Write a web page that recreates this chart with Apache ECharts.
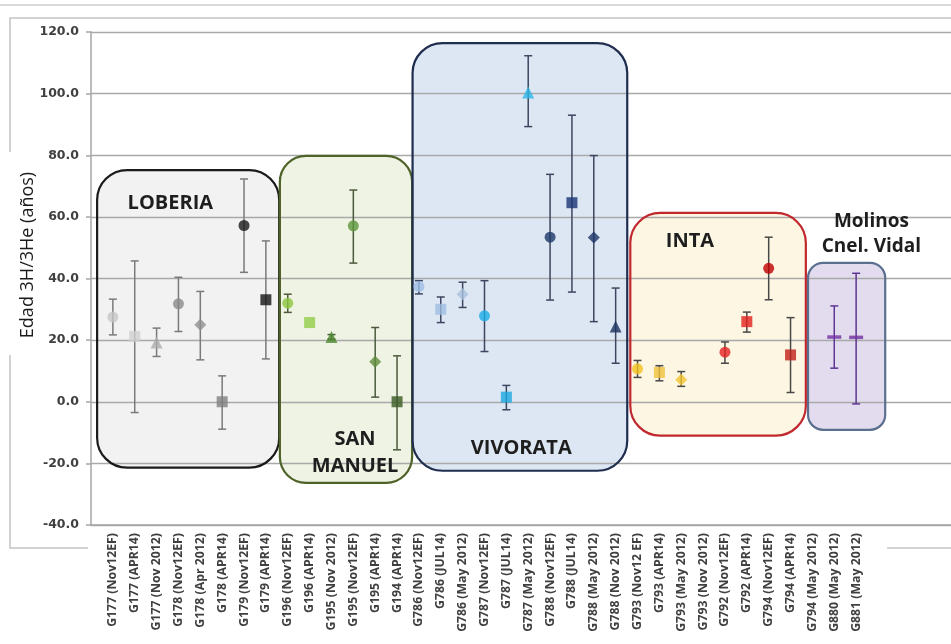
<!DOCTYPE html>
<html>
<head>
<meta charset="utf-8">
<script src="https://cdn.jsdelivr.net/npm/echarts/dist/echarts.min.js"></script>
<style>
  html, body { margin: 0; padding: 0; background: #ffffff; }
  #chart { width: 951px; height: 644px; }
</style>
</head>
<body>
<div id="chart"></div>
<script>
// ---------- DATA ----------
const categories = [
  'G177 (Nov12EF)', 'G177 (APR14)', 'G177 (Nov 2012)', 'G178 (Nov12EF)', 'G178 (Apr 2012)',
  'G178 (APR14)', 'G179 (Nov12EF)', 'G179 (APR14)', 'G196 (Nov12EF)', 'G196 (APR14)',
  'G195 (Nov 2012)', 'G195 (Nov12EF)', 'G195 (APR14)', 'G194 (APR14)', 'G786 (Nov12EF)',
  'G786 (JUL14)', 'G786 (May 2012)', 'G787 (Nov12EF)', 'G787 (JUL14)', 'G787 (May 2012)',
  'G788 (Nov12EF)', 'G788 (JUL14)', 'G788 (May 2012)', 'G788 (Nov 2012)', 'G793 (Nov12 EF)',
  'G793 (APR14)', 'G793 (May 2012)', 'G793 (Nov 2012)', 'G792 (Nov12EF)', 'G792 (APR14)',
  'G794 (Nov12EF)', 'G794 (APR14)', 'G794 (May 2012)', 'G880 (May 2012)', 'G881 (May 2012)'
];
const ages = [
  27.5, 21.2, 19.2, 31.8, 25.0, 0.0, 57.2, 33.1,
  32.0, 25.7, 21.0, 57.1, 13.0, 0.0,
  37.4, 30.0, 34.9, 27.9, 1.5, 100.4, 53.4, 64.6, 53.3, 24.4,
  10.7, 9.5, 7.1, null, 16.1, 26.0, 43.3, 15.2,
  null, 21.0, 20.9
];
const ageLow = [
  21.7, -3.5, 14.7, 22.8, 13.6, -8.9, 42.0, 13.9,
  29.0, null, 20.3, 45.0, 1.5, -15.6,
  35.0, 25.7, 30.6, 16.3, -2.6, 89.3, 33.0, 35.6, 26.0, 12.5,
  7.9, 6.8, 5.0, null, 12.5, 22.6, 33.1, 3.0,
  null, 10.9, -0.7
];
const ageHigh = [
  33.3, 45.7, 23.9, 40.4, 35.8, 8.4, 72.3, 52.2,
  34.9, null, 21.8, 68.7, 24.1, 14.9,
  39.3, 34.0, 38.8, 39.3, 5.3, 112.3, 73.8, 93.0, 79.9, 36.9,
  13.4, 11.7, 9.8, null, 19.4, 29.1, 53.4, 27.3,
  null, 31.1, 41.7
];
const yTicks = [-40, -20, 0, 20, 40, 60, 80, 100, 120];
const groups = ['LOBERIA', 'SAN\nMANUEL', 'VIVORATA', 'INTA', 'Molinos\nCnel. Vidal'];
const yTitle = 'Edad 3H/3He (años)';

// ---------- STYLE / LAYOUT ----------
const symbols = [
  'circle', 'rect', 'triangle', 'circle', 'diamond', 'rect', 'circle', 'rect',
  'circle', 'rect', 'triangle', 'circle', 'diamond', 'rect',
  'circle', 'rect', 'diamond', 'circle', 'rect', 'triangle', 'circle', 'rect', 'diamond', 'triangle',
  'circle', 'rect', 'diamond', null, 'circle', 'rect', 'circle', 'rect',
  null, 'dash', 'dash'
];
const colors = [
  '#c6c6c6', '#d0d0d0', '#acacac', '#8a8a8a', '#8e8e8e', '#808080', '#1a1a1a', '#141414',
  '#8cc63e', '#92cc4a', '#4e8a30', '#5a963a', '#5f8c3a', '#3a5a22',
  '#9dbde3', '#9fbde0', '#a9c1de', '#19ade6', '#1ba9e1', '#2bb6e8', '#1d3768', '#1a3574', '#1b3668', '#1a2f5c',
  '#f2c01c', '#efc23a', '#f2c62e', null, '#e52222', '#e2201c', '#c00000', '#c0201a',
  null, '#7030a0', '#7030a0'
];
// annotation boxes in data units (category index, value)
const boxLayout = [
  { x0: -0.72, x1: 7.61,  y0: -21.4, y1: 75.2,  r: 30, fill: '#f2f2f2', stroke: '#1a1a1a', err: '#7a7a7a', lx: 2.63,  ly: 64.5,  fs: 20, lh: 27 },
  { x0: 7.64,  x1: 13.69, y0: -26.3, y1: 79.8,  r: 26, fill: '#eef3e3', stroke: '#4f6228', err: '#4c5a3c', lx: 11.08, ly: -16.6, fs: 20, lh: 27 },
  { x0: 13.71, x1: 23.53, y0: -22.4, y1: 116.4, r: 30, fill: '#dde7f3', stroke: '#1f2d4f', err: '#3c4660', lx: 18.68, ly: -15.2, fs: 20, lh: 27 },
  { x0: 23.67, x1: 31.7,  y0: -11.0, y1: 61.3,  r: 30, fill: '#fdf6e3', stroke: '#c0282d', err: '#484848', lx: 26.4,  ly: 52.2,  fs: 20, lh: 27 },
  { x0: 31.8,  x1: 35.33, y0: -9.1,  y1: 45.1,  r: 15, fill: '#e3dcef', stroke: '#5b6f8e', err: '#5e3592', lx: 34.7,  ly: 54.5,  fs: 19, lh: 25 }
];
function groupOf(i) {
  for (let g = 0; g < boxLayout.length; g++) {
    if (i >= boxLayout[g].x0 && i <= boxLayout[g].x1) return g;
  }
  return 0;
}
const FONT = '"Open Sans", "Noto Sans", sans-serif';
const GRID = { left: 91, right: 0, top: 32, bottom: 119 };
const X_MIN = -1;
const X_MAX = 38.34;
const TOP = 1;   // canvas layer for everything drawn above the box fills

// ---------- BUILD ----------
const scatterData = [];
const errData = [];
categories.forEach((c, i) => {
  if (ages[i] !== null) {
    const isDash = symbols[i] === 'dash';
    scatterData.push({
      value: [i, ages[i]],
      symbol: isDash ? 'rect' : symbols[i],
      symbolSize: isDash ? [14, 3.5] : (symbols[i] === 'triangle' ? 12 : (symbols[i] === 'diamond' ? 12 : 11)),
      itemStyle: { color: colors[i] }
    });
  }
  if (ageLow[i] !== null && ageHigh[i] !== null) {
    errData.push([i, ageLow[i], ageHigh[i]]);
  }
});

function boxRect(api, b) {
  const p0 = api.coord([b.x0, b.y1]);
  const p1 = api.coord([b.x1, b.y0]);
  return { x: p0[0], y: p0[1], width: p1[0] - p0[0], height: p1[1] - p0[1], r: b.r };
}

const chart = echarts.init(document.getElementById('chart'), null, { renderer: 'canvas' });

const option = {
  backgroundColor: '#ffffff',
  animation: false,
  grid: GRID,
  xAxis: {
    type: 'value',
    zlevel: TOP,
    min: X_MIN,
    max: X_MAX,
    interval: 1,
    axisLine: { show: true, onZero: false, lineStyle: { color: '#a6a6a6', width: 1.5 } },
    axisTick: { show: false },
    splitLine: { show: false },
    axisLabel: {
      rotate: 90,
      margin: 8,
      fontSize: 12.3,
      fontWeight: 'bold',
      fontFamily: FONT,
      color: '#404040',
      showMinLabel: false,
      showMaxLabel: false,
      formatter: v => (Number.isInteger(v) && categories[v] !== undefined) ? categories[v] : ''
    }
  },
  yAxis: {
    type: 'value',
    zlevel: TOP,
    min: yTicks[0],
    max: yTicks[yTicks.length - 1],
    interval: yTicks[1] - yTicks[0],
    axisLine: { show: true, onZero: false, lineStyle: { color: '#a6a6a6', width: 1.5 } },
    axisTick: { show: true, length: 5, lineStyle: { color: '#a6a6a6', width: 1.5 } },
    splitLine: { show: true, lineStyle: { color: '#a9a9a9', width: 1.4 } },
    axisLabel: {
      margin: 12,
      fontSize: 12.5,
      fontWeight: 'bold',
      fontFamily: '"DejaVu Sans", sans-serif',
      color: '#404040',
      formatter: v => v.toFixed(1)
    }
  },
  graphic: [
    { type: 'line', shape: { x1: 0, y1: 5, x2: 951, y2: 5 }, style: { stroke: '#cccccc', lineWidth: 1.5 } },
    { type: 'polyline', shape: { points: [[951, 18], [10, 18], [10, 152]] }, style: { stroke: '#c4c4c4', lineWidth: 1.5, fill: null } },
    { type: 'polyline', shape: { points: [[10, 355], [10, 548], [88, 548]] }, style: { stroke: '#c4c4c4', lineWidth: 1.5, fill: null } },
    { type: 'line', shape: { x1: 887, y1: 548, x2: 951, y2: 548 }, style: { stroke: '#c4c4c4', lineWidth: 1.5 } },
    {
      type: 'text', x: 28, y: 255, rotation: Math.PI / 2,
      style: { text: yTitle, fontSize: 18, fontFamily: FONT, fill: '#1a1a1a', align: 'center', verticalAlign: 'middle' }
    }
  ],
  series: [
    {
      type: 'custom',
      name: 'boxFills',
      zlevel: 0,
      z: 1,
      silent: true,
      data: groups.map((g, i) => [i]),
      renderItem: (params, api) => ({
        type: 'rect',
        shape: boxRect(api, boxLayout[params.dataIndex]),
        style: { fill: boxLayout[params.dataIndex].fill, lineWidth: 0 }
      })
    },
    {
      type: 'custom',
      name: 'boxOutlines',
      zlevel: TOP,
      z: 2,
      silent: true,
      data: groups.map((g, i) => [i]),
      renderItem: (params, api) => {
        const b = boxLayout[params.dataIndex];
        const t = api.coord([b.lx, b.ly]);
        return {
          type: 'group',
          children: [
            {
              type: 'rect',
              shape: boxRect(api, b),
              style: { fill: 'rgba(0,0,0,0)', stroke: b.stroke, lineWidth: 2.2 }
            },
            {
              type: 'text',
              x: t[0], y: t[1],
              style: {
                text: groups[params.dataIndex],
                fontSize: b.fs, fontWeight: 'bold', fontFamily: FONT,
                fill: '#1e1e1e', align: 'center', verticalAlign: 'middle', lineHeight: b.lh
              }
            }
          ]
        };
      }
    },
    {
      type: 'custom',
      name: 'errors',
      zlevel: TOP,
      z: 3,
      silent: true,
      data: errData,
      renderItem: (params, api) => {
        const x = api.value(0);
        const a = api.coord([x, api.value(2)]);
        const b = api.coord([x, api.value(1)]);
        const stroke = boxLayout[groupOf(x)].err;
        const c = 4;
        const st = { stroke: stroke, lineWidth: 1.5 };
        return {
          type: 'group',
          children: [
            { type: 'line', shape: { x1: a[0], y1: a[1], x2: b[0], y2: b[1] }, style: st },
            { type: 'line', shape: { x1: a[0] - c, y1: a[1], x2: a[0] + c, y2: a[1] }, style: st },
            { type: 'line', shape: { x1: b[0] - c, y1: b[1], x2: b[0] + c, y2: b[1] }, style: st }
          ]
        };
      }
    },
    {
      type: 'scatter',
      name: 'ages',
      zlevel: TOP,
      z: 4,
      data: scatterData
    }
  ]
};

chart.setOption(option);
</script>
</body>
</html>
